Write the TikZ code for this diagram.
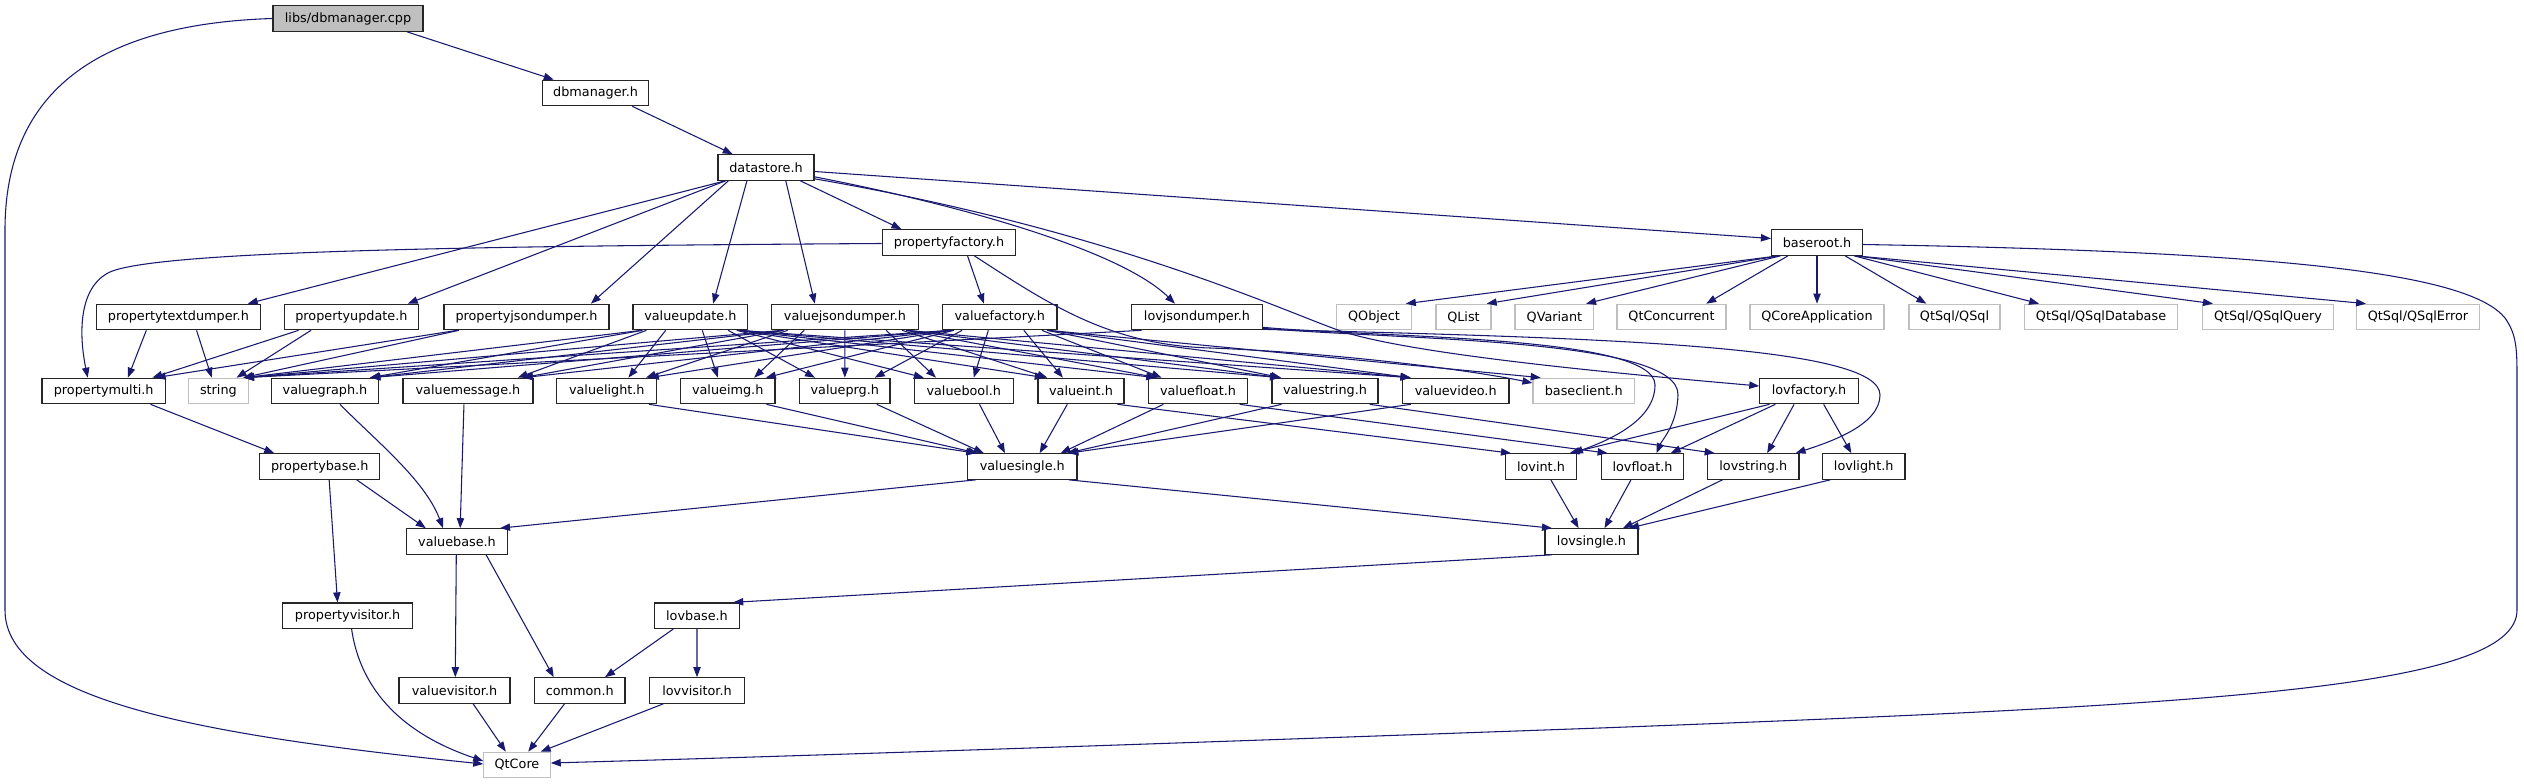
\documentclass[tikz,border=0pt]{standalone}
\usepackage{fontspec}
\setmainfont{DejaVu Sans}
\usetikzlibrary{arrows.meta,calc}
\definecolor{edgeblue}{HTML}{191970}
\definecolor{extgray}{HTML}{BFBFBF}
\newdimen\depxa
\newdimen\depxb
\newcommand\depline[2]{%
  \pgfextractx{\depxa}{\pgfpointanchor{#1}{center}}%
  \pgfextractx{\depxb}{\pgfpointanchor{#2}{center}}%
  \pgfmathsetmacro\depd{(\depxb-\depxa)/112}%
  \pgfmathsetmacro\depfa{0.5+0.42*tanh(\depd)}%
  \pgfmathsetmacro\depfb{0.5-0.42*tanh(\depd)}%
  \draw[deparrow] ($(#1.south west)!\depfa!(#1.south east)$) -- ($(#2.north west)!\depfb!(#2.north east)$);%
}
\begin{document}
\begin{tikzpicture}[x=0.75pt,y=-0.75pt,
  box/.style={draw=black!85, line width=0.9pt, fill=white, minimum height=19.1pt, inner sep=0pt, font=\fontsize{9.6}{11}\selectfont, text=black},
  ext/.style={box, draw=extgray},
  root/.style={box, fill=extgray},
  deparrow/.style={draw=edgeblue, line width=0.8pt, -{Triangle[length=7.5pt,width=5.5pt]}}]
\fill[white] (0,0) rectangle (2524,784);
\useasboundingbox (0,0) rectangle (2524,784);
% row 1-4
\node[root, minimum width=112.5pt] (cpp) at (348,18.5) {libs/dbmanager.cpp};
\node[box, minimum width=79.5pt] (dbm) at (595.6,93) {dbmanager.h};
\node[box, minimum width=72pt] (datastore) at (766,167.5) {datastore.h};
\node[box, minimum width=100.1pt] (pfac) at (949,242.5) {propertyfactory.h};
\node[box, minimum width=68.25pt] (baseroot) at (1817,242.5) {baseroot.h};
% row 5
\node[box, minimum width=123pt] (ptd) at (178.4,317) {propertytextdumper.h};
\node[box, minimum width=100.5pt] (pupd) at (351.4,317) {propertyupdate.h};
\node[box, minimum width=123.75pt] (pjd) at (526.5,317) {propertyjsondumper.h};
\node[box, minimum width=86pt] (vupd) at (690.4,317) {valueupdate.h};
\node[box, minimum width=110.25pt] (vjd) at (845,317) {valuejsondumper.h};
\node[box, minimum width=85.7pt] (vfac) at (999.8,317) {valuefactory.h};
\node[box, minimum width=97.95pt] (ljd) at (1197,317) {lovjsondumper.h};
\node[ext, minimum width=56.25pt] (qobj) at (1374,317) {QObject};
\node[ext, minimum width=41.25pt] (qlist) at (1463.5,317) {QList};
\node[ext, minimum width=59.1pt] (qvar) at (1554.4,317) {QVariant};
\node[ext, minimum width=81.75pt] (qconc) at (1671.5,317) {QtConcurrent};
\node[ext, minimum width=100.5pt] (qcore) at (1817,317) {QCoreApplication};
\node[ext, minimum width=68.25pt] (qsql) at (1954.5,317) {QtSql/QSql};
\node[ext, minimum width=114.75pt] (qsqldb) at (2101,317) {QtSql/QSqlDatabase};
\node[ext, minimum width=97.8pt] (qsqlq) at (2268,317) {QtSql/QSqlQuery};
\node[ext, minimum width=91.9pt] (qsqle) at (2418,317) {QtSql/QSqlError};
% row 6
\node[box, minimum width=92.55pt] (pmulti) at (103.7,391) {propertymulti.h};
\node[ext, minimum width=44.7pt] (str) at (218.4,391) {string};
\node[box, minimum width=80.25pt] (vgraph) at (325,391) {valuegraph.h};
\node[box, minimum width=97.5pt] (vmsg) at (468,391) {valuemessage.h};
\node[box, minimum width=75pt] (vlight) at (606.8,391) {valuelight.h};
\node[box, minimum width=70.95pt] (vimg) at (727.7,391) {valueimg.h};
\node[box, minimum width=67.8pt] (vprg) at (844.8,391) {valueprg.h};
\node[box, minimum width=74.25pt] (vbool) at (963.8,391) {valuebool.h};
\node[box, minimum width=64.5pt] (vint) at (1081,391) {valueint.h};
\node[box, minimum width=73.9pt] (vfloat) at (1198,391) {valuefloat.h};
\node[box, minimum width=79.5pt] (vstring) at (1325,391) {valuestring.h};
\node[box, minimum width=79.8pt] (vvideo) at (1455.7,391) {valuevideo.h};
\node[ext, minimum width=76pt] (bclient) at (1583.7,391) {baseclient.h};
\node[box, minimum width=73.7pt] (lfac) at (1809,391) {lovfactory.h};
% row 7
\node[box, minimum width=90pt] (pbase) at (319.8,466.5) {propertybase.h};
\node[box, minimum width=82pt] (vsingle) at (1022.3,466.5) {valuesingle.h};
\node[box, minimum width=52.95pt] (lint) at (1541,466.5) {lovint.h};
\node[box, minimum width=61.8pt] (lfloat) at (1642.5,466.5) {lovfloat.h};
\node[box, minimum width=68.5pt] (lstring) at (1753.3,466.5) {lovstring.h};
\node[box, minimum width=62pt] (llight) at (1863.7,466.5) {lovlight.h};
% row 8
\node[box, minimum width=76pt] (vbase) at (457,541.5) {valuebase.h};
\node[box, minimum width=69.75pt] (lsingle) at (1591.5,541.5) {lovsingle.h};
% row 9
\node[box, minimum width=97.2pt] (pvis) at (347.6,615.7) {propertyvisitor.h};
\node[box, minimum width=63.75pt] (lbase) at (697,615.7) {lovbase.h};
% row 10
\node[box, minimum width=83.25pt] (vvis) at (454.5,690.5) {valuevisitor.h};
\node[box, minimum width=67.9pt] (common) at (579.8,690.5) {common.h};
\node[box, minimum width=71.1pt] (lvis) at (697,690.5) {lovvisitor.h};
% row 11
\node[ext, minimum width=49.7pt] (qtcore) at (517,765) {QtCore};

% straight connectors
\depline{cpp}{dbm}
\depline{dbm}{datastore}
\foreach \t in {ptd,pupd,pjd,vupd,vjd,pfac} {\depline{datastore}{\t}}
\depline{pfac}{vfac}
\foreach \t in {qobj,qlist,qvar,qconc,qcore,qsql,qsqldb,qsqlq,qsqle} {\depline{baseroot}{\t}}
\foreach \s in {ptd,pupd,pjd} {\depline{\s}{pmulti}\depline{\s}{str}}
\foreach \s in {vupd,vjd,vfac} {
  \foreach \t in {str,vgraph,vmsg,vlight,vimg,vprg,vbool,vint,vfloat,vstring,vvideo} {\depline{\s}{\t}}
}
\depline{vfac}{bclient}
\depline{ljd}{str}
\foreach \t in {lint,lfloat,lstring,llight} {\depline{lfac}{\t}}
\depline{pmulti}{pbase}
\draw[deparrow] ($(vgraph.south)+(15,0)$) .. controls (375,440) and (425,480) .. ($(vbase.north)+(-14,0)$);
\depline{vmsg}{vbase}
\foreach \s in {vlight,vimg,vprg,vbool,vint,vfloat,vstring,vvideo} {\depline{\s}{vsingle}}
\depline{vint}{lint}
\depline{vfloat}{lfloat}
\depline{vstring}{lstring}
\depline{vsingle}{vbase}
\depline{vsingle}{lsingle}
\foreach \s in {lint,lfloat,lstring,llight} {\depline{\s}{lsingle}}
\depline{lsingle}{lbase}
\depline{pbase}{vbase}
\depline{pbase}{pvis}
\depline{vbase}{vvis}
\depline{vbase}{common}
\depline{lbase}{common}
\depline{lbase}{lvis}
\draw[deparrow] ($(pvis.south)+(4,0)$) .. controls (362,700) and (415,738) .. ($(qtcore.west)+(0,-4)$);
\foreach \s in {vvis,common,lvis} {\depline{\s}{qtcore}}

% curved connectors
\draw[deparrow] ($(datastore.east)+(0,4)$) -- ($(baseroot.west)+(0,-4)$);
\draw[deparrow] ($(datastore.south east)+(0,-4)$) .. controls (960,205) and (1120,250) .. ($(ljd.north)+(-22,0)$);
\draw[deparrow] ($(datastore.south east)+(0,-2)$) .. controls (1100,228) and (1270,305) .. (1335,329) .. controls (1400,353) and (1600,372) .. ($(lfac.west)+(0,-5)$);
\draw[deparrow] ($(pfac.west)+(0,1)$) .. controls (500,246) and (160,250) .. (110,272) .. controls (80,286) and (78,330) .. ($(pmulti.north)+(-16,0)$);
\draw[deparrow] ($(pfac.south east)+(-42,0)$) .. controls (1050,305) and (1110,345) .. (1210,348) .. controls (1320,352) and (1460,368) .. ($(bclient.west)+(0,-8)$);
\draw[deparrow] ($(ljd.south east)+(0,-3)$) .. controls (1380,338) and (1655,335) .. (1655,385) .. controls (1655,420) and (1610,440) .. ($(lint.north east)+(-4,0)$);
\draw[deparrow] ($(ljd.south east)+(0,-2)$) .. controls (1400,340) and (1680,338) .. (1678,395) .. controls (1677,425) and (1662,440) .. ($(lfloat.north)+(14,0)$);
\draw[deparrow] ($(ljd.south east)+(0,-1)$) .. controls (1600,338) and (1880,345) .. (1880,395) .. controls (1880,425) and (1830,442) .. ($(lstring.north east)+(-4,0)$);
\draw[deparrow] ($(baseroot.east)+(0,2)$) .. controls (2300,252) and (2470,275) .. (2505,318) .. controls (2517,335) and (2517,350) .. (2517,380) -- (2517,610) .. controls (2517,690) and (2200,705) .. (1600,728) .. controls (1100,746) and (800,756) .. ($(qtcore.east)+(0,-2)$);
\draw[deparrow] (cpp.west) .. controls (100,24) and (5,90) .. (5,230) -- (5,610) .. controls (5,700) and (200,735) .. ($(qtcore.west)+(0,-1)$);
\end{tikzpicture}
\end{document}
